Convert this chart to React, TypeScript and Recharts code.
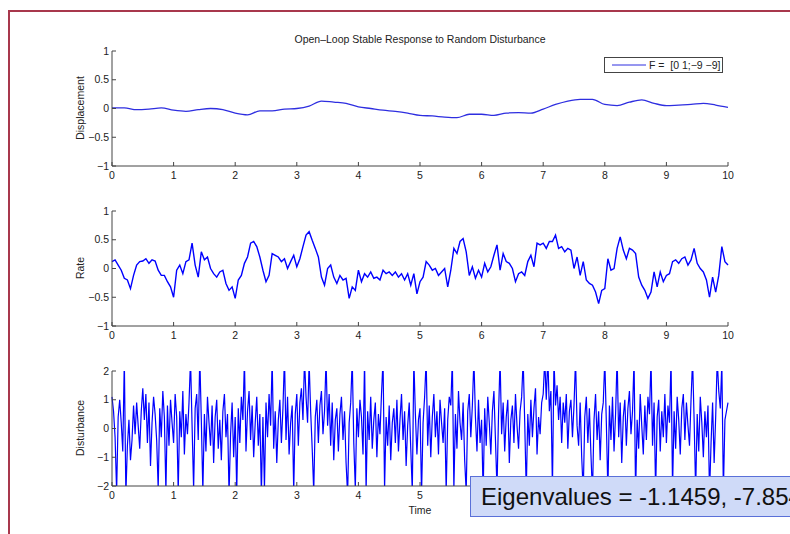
import React from 'react';
import { LineChart, Line, XAxis, YAxis, Legend } from 'recharts';

const timeTicks = [0, 1, 2, 3, 4, 5, 6, 7, 8, 9, 10];
const unitTicks = [-1, -0.5, 0, 0.5, 1];
const disturbanceTicks = [-2, -1, 0, 1, 2];

// displacement, sampled every 0.2 s
const displacement = [
  0.01, 0.01, -0.02, -0.01, 0.01, -0.03, -0.05, -0.02, 0.0, -0.02,
  -0.08, -0.11, -0.04, -0.04, -0.01, 0.0, 0.04, 0.13, 0.11, 0.09,
  0.03, 0.0, -0.03, -0.05, -0.08, -0.12, -0.13, -0.15, -0.16, -0.1,
  -0.1, -0.12, -0.08, -0.07, -0.08, -0.01, 0.07, 0.13, 0.16, 0.16,
  0.07, 0.05, 0.11, 0.15, 0.09, 0.05, 0.06, 0.07, 0.09, 0.06,
  0.02,
];

// rate, sampled every 0.05 s (one row per second)
const rate = [
  0.12, 0.15, 0.06, -0.03, -0.17, -0.2, -0.35, -0.12, 0.06, 0.12, 0.13, 0.17, 0.09, 0.15, 0.13, -0.03, -0.12, -0.12, -0.23, -0.32,
  -0.5, -0.03, 0.06, -0.09, 0.12, 0.15, 0.44, 0.06, -0.15, 0.29, 0.15, 0.2, 0.0, -0.09, -0.15, -0.06, -0.03, -0.26, -0.38, -0.32,
  -0.52, -0.2, -0.12, 0.09, 0.2, 0.44, 0.47, 0.38, 0.2, -0.03, -0.23, -0.12, 0.26, 0.23, 0.2, 0.12, 0.17, 0.0, 0.12, 0.23,
  0.03, 0.17, 0.38, 0.58, 0.64, 0.49, 0.35, 0.2, -0.15, -0.29, 0.0, 0.06, -0.15, -0.26, -0.12, -0.2, -0.17, -0.52, -0.32, -0.38,
  -0.03, -0.23, -0.09, -0.15, -0.06, -0.17, -0.15, -0.2, -0.03, -0.09, -0.06, -0.12, -0.06, -0.15, -0.09, -0.2, -0.09, -0.29, -0.09, -0.44,
  -0.23, -0.15, 0.12, 0.06, -0.03, 0.0, -0.12, -0.06, 0.0, -0.32, -0.03, 0.35, 0.26, 0.47, 0.52, 0.29, -0.12, 0.03, -0.17, -0.03,
  -0.15, 0.09, -0.06, 0.03, 0.23, 0.41, -0.03, 0.26, 0.12, 0.09, 0.0, -0.23, -0.09, -0.06, -0.12, 0.12, 0.23, 0.03, 0.44, 0.41,
  0.44, 0.35, 0.47, 0.47, 0.58, 0.35, 0.38, 0.29, 0.35, 0.32, 0.0, 0.2, -0.12, 0.12, -0.2, -0.26, -0.29, -0.41, -0.61, -0.38,
  -0.35, 0.17, -0.03, 0.0, 0.35, 0.55, 0.32, 0.17, 0.35, 0.32, 0.26, -0.15, -0.29, -0.38, -0.52, -0.41, -0.06, -0.32, -0.06, -0.23,
  -0.12, -0.09, 0.12, 0.15, 0.09, 0.17, 0.2, 0.06, 0.15, 0.35, 0.09, 0.0, -0.06, -0.2, -0.5, -0.15, -0.41, -0.12, 0.38, 0.12,
  0.06,
];

// disturbance, sampled every 0.025 s (spikes past +-2 get clipped)
const disturbance = [
  1.1, 0.6, -0.3, -2.2, 0.4, 1.0, 0.2, -0.8, 2.4, -2.3,
  -0.6, 0.3, -1.1, -0.4, 0.8, -0.2, 0.9, 0.1, -0.7, 0.6,
  1.4, 0.3, 1.2, -0.5, 0.9, -1.3, 0.2, 1.1, 0.5, -0.4,
  -2.1, 0.7, -0.3, 1.3, 0.4, -2.2, 0.8, -0.6, 1.0, 0.2,
  -0.5, 1.2, 0.4, -2.2, 0.6, -0.3, 1.3, -0.9, 0.5, -0.2,
  0.9, 2.4, 0.1, -2.1, 0.7, 1.2, -0.4, 2.5, 0.3, -2.2,
  0.5, -0.8, 1.1, 0.2, -0.6, 0.8, -1.2, 0.4, 1.0, -0.7,
  0.3, -1.1, 0.6, 1.2, -0.3, 0.5, -2.3, -0.2, 0.9, -1.0,
  0.4, -2.2, 0.7, -0.5, 1.1, 0.3, 2.4, -0.8, 0.6, 1.3,
  -0.4, 0.8, -1.0, 0.2, 1.1, -0.6, 0.5, -2.3, 0.4, -2.1,
  0.9, -0.3, 1.2, 0.1, 2.4, -0.7, 0.6, -1.2, 0.3, 1.0,
  -0.5, 0.7, 2.5, -0.4, 1.1, -0.9, 0.2, 0.8, -2.2, 0.5,
  1.2, -0.6, 0.9, 1.4, 0.3, 2.4, 1.1, 0.2, 2.3, 0.6,
  -0.7, -2.2, 0.4, 1.0, -0.5, 0.8, 1.3, -0.2, 0.6, 2.4,
  0.1, 1.2, -0.6, 0.9, -1.1, 0.3, 0.7, -0.8, 0.5, 1.1,
  -0.4, 0.6, -1.2, -2.3, 0.2, 0.9, 2.4, -0.5, -2.1, 0.7,
  -0.3, 1.0, 0.4, -0.9, 2.4, -2.2, 0.6, -0.4, 1.1, -0.7,
  0.3, 0.9, -1.0, 0.5, -0.2, 1.2, 2.4, -2.1, 0.4, -0.6,
  0.8, -1.1, 0.2, 0.7, -0.5, 1.0, -0.8, 0.3, 1.2, -0.4,
  0.6, -1.3, 0.1, 0.9, -0.7, -2.2, 2.4, 0.5, -0.9, 0.3,
  0.7, -2.3, 0.2, 1.1, 2.4, -0.6, 0.8, -1.0, 0.4, 1.2,
  -0.3, 0.6, -0.9, 1.0, 0.2, -0.5, 0.7, -2.2, 0.3, 1.1,
  0.8, 2.4, -2.1, 0.5, -0.7, 1.3, 0.2, -0.4, 0.9, -1.1,
  -2.2, 0.6, 1.2, -0.3, 0.8, 2.4, 0.4, -0.8, 1.0, -0.5,
  0.3, -2.3, 0.7, -0.6, 1.1, 0.2, -0.9, 0.6, 1.3, -0.4,
  -2.1, 0.5, 2.4, -0.2, 0.9, -0.8, 0.4, 1.0, -1.2, 0.3,
  0.8, -0.5, 1.2, 0.1, -0.7, 0.6, 1.1, 2.4, 0.2, -2.2,
  0.5, -0.6, 1.0, -0.3, 0.7, 1.4, -0.9, 0.4, -0.2, 0.9,
  1.2, 2.4, 1.0, 2.5, 0.6, 1.3, -2.1, 2.4, 0.8, 1.5,
  0.3, 1.1, -0.5, 0.9, 0.2, 1.2, -0.7, 0.6, 1.0, -0.3,
  0.8, 2.4, 0.1, -0.6, 0.9, -1.0, -2.2, 0.4, 1.1, -0.5,
  0.7, -0.9, -2.3, 0.3, 1.2, -0.4, 0.6, -1.1, 0.5, 0.9,
  2.4, 0.2, -2.2, 0.8, -0.4, 1.1, -0.8, 0.5, 2.5, -0.3,
  0.9, -1.2, 0.4, 1.0, -0.6, 0.7, 1.3, -0.2, 0.6, 2.4,
  -2.3, 0.3, -0.7, 1.2, 0.1, -0.9, 0.8, -0.4, 1.1, 0.5,
  2.4, -0.6, 0.9, -2.2, 0.4, 1.0, -0.8, 0.6, -0.3, 1.2,
  -0.5, 0.8, 0.2, 2.4, -2.1, 0.6, -0.7, 1.1, 0.3, -0.9,
  0.7, 1.2, -0.4, 0.9, 0.1, -0.6, 1.0, 2.4, 0.3, -2.2,
  0.5, -0.8, 1.1, 0.2, -1.0, 0.6, -0.3, 0.8, -2.3, -0.5,
  0.9, -1.2, 0.4, 2.4, 1.3, 0.7, 2.3, -2.2, 0.3, 0.6,
  0.9,
];

const FONT = '"Liberation Sans", Arial, Helvetica, sans-serif';
const AXIS = '#444';
const INK = '#222';
const BLUE = '#0000ff';

const toSeries = (values: number[], step: number) =>
  values.map((v, i) => ({ t: +(i * step).toFixed(3), v }));

const minus = (v: number) => String(v).replace('-', '\u2212');
const blank = () => '';

type PanelProps = {
  top: number;
  data: { t: number; v: number }[];
  domain: [number, number];
  ticks: number[];
  color: string;
  width: number;
  showTime?: boolean;
  legend?: boolean;
};

const tickStyle = { fill: INK, fontSize: 10.5, fontFamily: FONT };

const Panel = ({ top, data, domain, ticks, color, width, showTime, legend }: PanelProps) => (
  <div style={{ position: 'absolute', left: 0, top }}>
    <LineChart width={790} height={155} data={data} margin={{ top: 10, right: 62, bottom: 0, left: 72 }}>
      <XAxis
        dataKey="t"
        type="number"
        domain={[0, 10]}
        ticks={timeTicks}
        height={30}
        stroke={AXIS}
        tickSize={-4}
        tickMargin={10}
        tick={tickStyle}
        // the eigenvalue box hides the last labels of the bottom panel
        tickFormatter={showTime ? (v: number) => (v > 5 ? '' : String(v)) : undefined}
        label={showTime ? { value: 'Time', position: 'insideBottom', offset: 2, fill: INK, fontSize: 10.5, fontFamily: FONT } : undefined}
      />
      <XAxis xAxisId="top" orientation="top" type="number" domain={[0, 10]} ticks={timeTicks} height={0} stroke={AXIS} tickSize={-4} tickFormatter={blank} />
      <YAxis
        type="number"
        domain={domain}
        ticks={ticks}
        allowDataOverflow
        width={40}
        stroke={AXIS}
        tickSize={-4}
        tickMargin={7}
        tick={tickStyle}
        tickFormatter={minus}
      />
      <YAxis yAxisId="r" orientation="right" type="number" domain={domain} ticks={ticks} width={0} stroke={AXIS} tickSize={-4} tickFormatter={blank} />
      {legend && (
        <Legend
          layout="vertical"
          align="center"
          verticalAlign="middle"
          wrapperStyle={{ left: 604, top: 16, width: 119 }}
          content={() => (
            <div style={{ border: `1px solid ${AXIS}`, background: '#fff', height: 14, display: 'flex', alignItems: 'center', fontFamily: FONT, fontSize: 10.5, color: INK }}>
              <svg width={44} height={14}>
                <line x1={7} x2={41} y1={7} y2={7} stroke={color} strokeWidth={1} />
              </svg>
              <span style={{ whiteSpace: 'pre' }}>{'F =  [0 1;\u22129 \u22129]'}</span>
            </div>
          )}
        />
      )}
      <Line dataKey="v" type={legend ? 'monotone' : 'linear'} stroke={color} strokeWidth={width} dot={false} isAnimationActive={false} />
    </LineChart>
  </div>
);

const yLabel = (text: string, centerY: number) => (
  <div
    style={{
      position: 'absolute',
      left: 80,
      top: centerY,
      transform: 'translate(-50%, -50%) rotate(-90deg)',
      fontFamily: FONT,
      fontSize: 10.5,
      color: INK,
      whiteSpace: 'nowrap',
    }}
  >
    {text}
  </div>
);

export default function App() {
  return (
    <div style={{ position: 'absolute', left: 0, top: 0, width: 790, height: 534, background: '#fff', overflow: 'hidden' }}>
      <div style={{ position: 'absolute', left: 8, top: 10, width: 800, height: 600, borderLeft: '2px solid #a8384c', borderTop: '2px solid #a8384c' }} />
      <div style={{ position: 'absolute', left: 0, width: 840, top: 33, textAlign: 'center', fontFamily: FONT, fontSize: 10.5, color: INK }}>
        Open{'\u2013'}Loop Stable Response to Random Disturbance
      </div>
      <Panel top={41} data={toSeries(displacement, 0.2)} domain={[-1, 1]} ticks={unitTicks} color="#2e2ee0" width={1.3} legend />
      <Panel top={201} data={toSeries(rate, 0.05)} domain={[-1, 1]} ticks={unitTicks} color={BLUE} width={1.4} />
      <Panel top={361} data={toSeries(disturbance, 0.025)} domain={[-2, 2]} ticks={disturbanceTicks} color={BLUE} width={1.2} showTime />
      {yLabel('Displacement', 108)}
      {yLabel('Rate', 268)}
      {yLabel('Disturbance', 428)}
      <div
        style={{
          position: 'absolute',
          left: 470,
          top: 476,
          width: 360,
          height: 41,
          background: '#cfdaf8',
          border: '1.5px solid #5a70d8',
          boxSizing: 'border-box',
          fontFamily: FONT,
          fontSize: 24,
          color: '#111',
          paddingLeft: 10,
          lineHeight: '39px',
          whiteSpace: 'nowrap',
        }}
      >
        Eigenvalues = -1.1459, -7.8541
      </div>
    </div>
  );
}
